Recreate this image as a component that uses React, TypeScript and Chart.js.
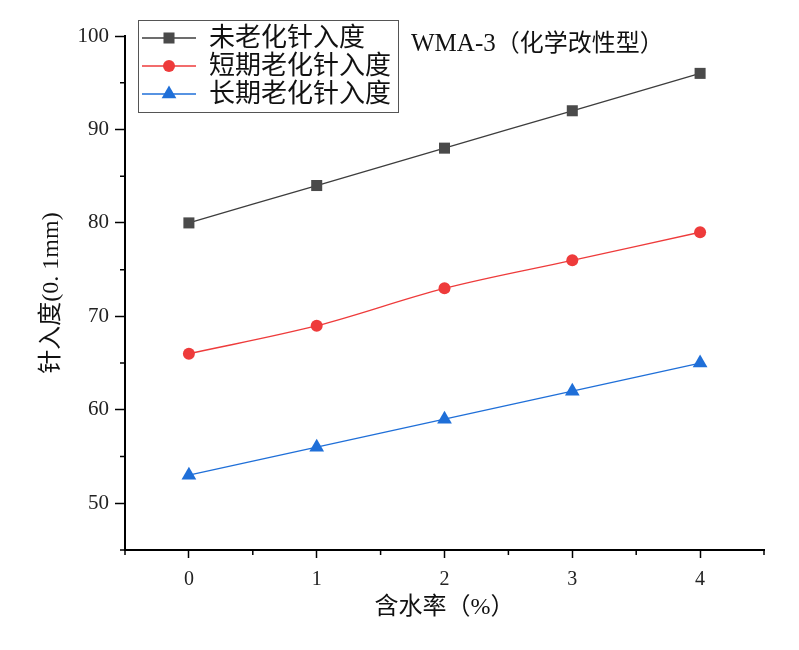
import { Chart, registerables, Plugin } from 'chart.js';
import { drawPoint } from 'chart.js/helpers';
import { useEffect, useRef } from 'react';

Chart.register(...registerables);

const waterContent = [0, 1, 2, 3, 4];
const unaged = [80, 84, 88, 92, 96];
const shortAged = [66, 69, 73, 76, 79];
const longAged = [53, 56, 59, 62, 65];

const xTicks = [0, 1, 2, 3, 4];
const xMinorTicks = [-0.5, 0.5, 1.5, 2.5, 3.5, 4.5];
const yTicks = [50, 60, 70, 80, 90, 100];
const yMinorTicks = [45, 55, 65, 75, 85, 95];

const seriesLabels = ['未老化针入度', '短期老化针入度', '长期老化针入度'];
const chartTitle = 'WMA-3';
const chartSubtitle = '（化学改性型）';

const CJK = '"Liberation Serif", "Noto Sans CJK SC", serif';
const SERIF = '"Liberation Serif", "DejaVu Serif", serif';

const minorTicksPlugin: Plugin<'line'> = {
  id: 'minorTicks',
  afterDraw(chart) {
    const { ctx, scales } = chart;
    const x = scales.x;
    const y = scales.y;
    ctx.save();
    ctx.strokeStyle = '#000';
    ctx.lineWidth = 1.5;
    ctx.beginPath();
    xMinorTicks.forEach((v) => {
      const px = x.getPixelForValue(v);
      ctx.moveTo(px, x.top);
      ctx.lineTo(px, x.top + 5);
    });
    yMinorTicks.forEach((v) => {
      const py = y.getPixelForValue(v);
      ctx.moveTo(y.right, py);
      ctx.lineTo(y.right - 5, py);
    });
    ctx.stroke();
    ctx.restore();
  },
};

const legendPlugin: Plugin<'line'> = {
  id: 'boxLegend',
  afterDraw(chart) {
    const { ctx } = chart;
    const left = 138;
    const top = 20;
    const width = 260;
    const height = 92;
    ctx.save();
    ctx.strokeStyle = '#555';
    ctx.lineWidth = 1;
    ctx.strokeRect(left + 0.5, top + 0.5, width, height);
    chart.data.datasets.forEach((ds: any, i) => {
      const cy = top + 18 + i * 28;
      ctx.strokeStyle = ds.borderColor;
      ctx.lineWidth = 1.3;
      ctx.beginPath();
      ctx.moveTo(left + 4, cy);
      ctx.lineTo(left + 58, cy);
      ctx.stroke();
      ctx.fillStyle = ds.pointBackgroundColor;
      ctx.strokeStyle = ds.pointBackgroundColor;
      drawPoint(
        ctx,
        { pointStyle: ds.pointStyle, rotation: 0, radius: ds.pointRadius, borderWidth: 0 },
        left + 31,
        cy
      );
      ctx.fillStyle = '#111';
      ctx.font = `26px ${CJK}`;
      ctx.textBaseline = 'middle';
      ctx.textAlign = 'left';
      ctx.fillText(ds.label, left + 71, cy + 1);
    });
    ctx.restore();
  },
};

const titlePlugin: Plugin<'line'> = {
  id: 'cornerTitle',
  afterDraw(chart) {
    const { ctx } = chart;
    ctx.save();
    ctx.fillStyle = '#111';
    ctx.textBaseline = 'alphabetic';
    ctx.textAlign = 'left';
    ctx.font = `25px ${SERIF}`;
    ctx.fillText(chartTitle, 411, 51);
    const w = ctx.measureText(chartTitle).width;
    ctx.font = `24px ${CJK}`;
    ctx.fillText(chartSubtitle, 411 + w, 51);
    ctx.restore();
  },
};

export default function App() {
  const canvasRef = useRef<HTMLCanvasElement | null>(null);

  useEffect(() => {
    document.body.style.margin = '0';
    if (canvasRef.current == null) return;

    const chart = new Chart(canvasRef.current, {
      type: 'line',
      data: {
        datasets: [
          {
            label: seriesLabels[0],
            data: waterContent.map((x, i) => ({ x, y: unaged[i] })),
            borderColor: '#3d3d3d',
            pointBackgroundColor: '#4a4a4a',
            pointBorderWidth: 0,
            pointStyle: 'rect',
            pointRadius: 7.8,
            borderWidth: 1.3,
            tension: 0.35,
          },
          {
            label: seriesLabels[1],
            data: waterContent.map((x, i) => ({ x, y: shortAged[i] })),
            borderColor: '#ee3b3b',
            pointBackgroundColor: '#ee3b3b',
            pointBorderWidth: 0,
            pointStyle: 'circle',
            pointRadius: 6,
            borderWidth: 1.3,
            tension: 0.35,
          },
          {
            label: seriesLabels[2],
            data: waterContent.map((x, i) => ({ x, y: longAged[i] })),
            borderColor: '#1f6fd8',
            pointBackgroundColor: '#1f6fd8',
            pointBorderWidth: 0,
            pointStyle: 'triangle',
            pointRadius: 8.5,
            borderWidth: 1.3,
            tension: 0.35,
          },
        ],
      },
      options: {
        responsive: false,
        animation: false,
        devicePixelRatio: 1,
        layout: { padding: { left: 0, top: 36, right: 35, bottom: 0 } },
        plugins: {
          legend: { display: false },
          tooltip: { enabled: false },
          title: { display: false },
        },
        scales: {
          x: {
            type: 'linear',
            min: -0.5,
            max: 4.5,
            afterBuildTicks: (scale) => {
              scale.ticks = xTicks.map((value) => ({ value }));
            },
            afterFit: (scale) => {
              scale.height = 100;
            },
            border: { display: true, color: '#000', width: 2 },
            grid: {
              drawOnChartArea: false,
              drawTicks: true,
              tickLength: 8,
              tickWidth: 1.5,
              tickColor: '#000',
            },
            ticks: {
              color: '#222',
              padding: 10,
              font: { family: SERIF, size: 20 },
            },
            title: {
              display: true,
              text: '含水率（%）',
              color: '#111',
              font: { family: CJK, size: 24 },
              padding: { top: 0, bottom: 28 },
            },
          },
          y: {
            type: 'linear',
            min: 45,
            max: 100,
            afterBuildTicks: (scale) => {
              scale.ticks = yTicks.map((value) => ({ value }));
            },
            afterFit: (scale) => {
              scale.width = 125;
            },
            border: { display: true, color: '#000', width: 2 },
            grid: {
              drawOnChartArea: false,
              drawTicks: true,
              tickLength: 10,
              tickWidth: 1.5,
              tickColor: '#000',
            },
            ticks: {
              color: '#222',
              padding: 6,
              font: { family: SERIF, size: 21 },
            },
            title: {
              display: true,
              text: '针入度(0. 1mm)',
              color: '#111',
              font: { family: CJK, size: 24 },
              padding: { top: 37, bottom: 0 },
            },
          },
        },
      },
      plugins: [minorTicksPlugin, legendPlugin, titlePlugin],
    });

    return () => chart.destroy();
  }, []);

  return (
    <div style={{ width: 799, height: 650 }}>
      <canvas ref={canvasRef} width={799} height={650} />
    </div>
  );
}
